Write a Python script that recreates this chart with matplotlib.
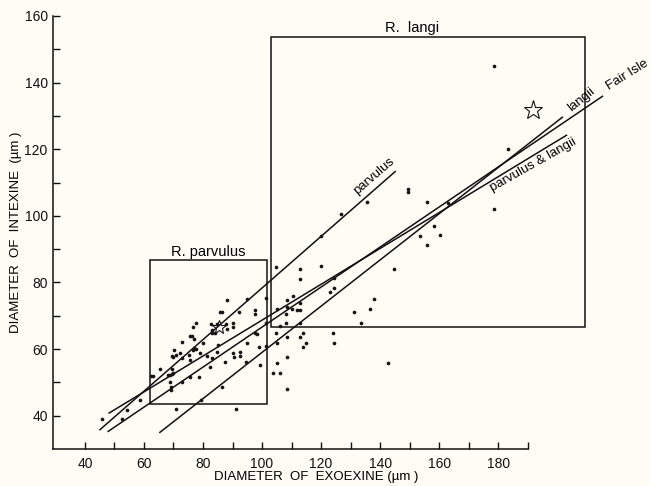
import matplotlib
matplotlib.use("Agg")
import matplotlib.pyplot as plt
from matplotlib.patches import Rectangle

plt.rcParams['font.family'] = ['Liberation Sans', 'DejaVu Sans']

# Messpunkte: Exoexine (x) gegen Intexine (y), in µm
exo = [45.9, 54.3, 52.4, 58.6, 63.1, 62.3, 65.4, 68.2,
       88.2, 95.0, 85.7, 86.4, 92.3, 97.6, 97.6, 77.6, 82.6, 84.8, 87.8, 90.2,
       76.7, 83.2, 88.2, 90.0, 75.5, 76.3, 83.2, 97.7, 98.3, 76.9, 72.8, 80.1,
       85.2, 94.8, 99.0, 70.1, 76.7, 77.6, 72.2, 69.4, 69.9, 70.8, 75.3, 79.0,
       81.2, 84.8, 90.2, 90.5, 92.5, 92.5, 72.8, 75.6, 82.9, 87.4, 82.3, 94.5,
       99.3, 69.4, 69.9, 68.8, 75.6, 78.7, 68.8, 69.0, 69.0, 72.8, 86.6, 79.2,
       70.8, 91.3, 77.0, 69.5, 84.0,
       135.6, 126.6, 119.8, 144.7, 104.7, 112.8, 119.9, 112.8, 124.3, 124.3,
       123.0, 110.6, 108.3, 137.9, 108.3, 110.0, 112.8, 112.0, 112.8, 104.9,
       101.5, 131.1, 136.5, 108.1, 133.5, 101.5, 108.1, 112.8, 106.1, 104.7,
       108.3, 113.7, 112.8, 124.1, 104.9, 114.9, 114.0, 124.3, 108.3, 104.9,
       142.5, 103.6, 106.1, 108.3, 101.5,
       160.3, 158.2, 153.5, 156.0, 156.0, 178.6, 183.2, 149.5, 149.5, 163.1, 178.6]
intex = [38.9, 41.7, 38.9, 44.7, 51.9, 51.9, 53.9, 52.2,
         74.7, 74.9, 71.0, 71.0, 71.0, 71.7, 70.5, 67.9, 67.5, 67.5, 67.5, 67.9,
         66.5, 65.7, 65.9, 66.5, 63.9, 63.9, 64.7, 64.7, 64.5, 62.9, 62.2, 61.9,
         61.2, 61.9, 60.7, 59.7, 59.7, 59.9, 58.7, 57.9, 57.5, 58.2, 58.2, 58.7,
         57.9, 59.2, 58.7, 57.7, 59.2, 57.9, 57.2, 56.7, 57.2, 56.2, 54.7, 56.2,
         55.2, 53.9, 52.7, 52.2, 51.7, 51.7, 50.2, 48.7, 47.7, 50.2, 48.7, 44.7,
         41.9, 41.9, 60.3, 52.6, 64.9,
         104.1, 100.5, 94.0, 84.0, 84.7, 84.0, 84.9, 81.0, 81.3, 78.3,
         77.2, 75.9, 74.7, 75.0, 72.5, 71.9, 73.8, 71.7, 71.7, 71.9,
         75.2, 71.2, 71.9, 70.5, 67.7, 67.7, 67.7, 67.9, 66.9, 64.9,
         63.7, 64.9, 63.7, 64.9, 61.7, 61.7, 60.7, 61.7, 57.7, 55.7,
         55.9, 52.9, 52.7, 47.9, 60.9,
         94.3, 97.0, 94.0, 91.3, 104.2, 145.1, 120.2, 108.0, 107.3, 104.0, 102.0]

# Sterne
star_exo = [85.4, 191.7]
star_int = [66.5, 131.9]
star_size = [10, 14]

# Regressionsgeraden (Anfang, Ende)
line_names = ['parvulus', 'langii', 'Fair Isle', 'parvulus & langii']
line_x0 = [45.1, 65.4, 47.9, 48.2]
line_y0 = [35.8, 35.0, 35.3, 40.8]
line_x1 = [145.1, 201.7, 215.3, 203.1]
line_y1 = [113.3, 129.6, 135.9, 124.2]
label_x = [138.0, 208.0, 223.6, 191.9]
label_y = [111.8, 135.0, 142.2, 115.4]
label_rot = [41, 39, 32, 29.5]

# Kästen: links, unten, rechts, oben
box_names = ['R. parvulus', 'R.  langi']
box_x0 = [62.0, 103.1]
box_y0 = [43.4, 66.6]
box_x1 = [101.6, 209.5]
box_y1 = [86.7, 153.8]
box_lab_x = [81.8, 150.8]
box_lab_y = [89.0, 156.4]

bg = '#fdfdf6'
fig = plt.figure(figsize=(6.5, 4.86), dpi=100, facecolor=bg)
ax = fig.add_axes([0.082, 0.0761, 0.730, 0.891], facecolor=bg)

ax.scatter(exo, intex, s=7, color='#151515', linewidths=0, zorder=3)
for x, y, ms in zip(star_exo, star_int, star_size):
    ax.plot(x, y, marker='*', ms=ms, mfc='none', mec='#151515', mew=0.8,
            clip_on=False, zorder=4)

for i in range(len(line_names)):
    ax.plot([line_x0[i], line_x1[i]], [line_y0[i], line_y1[i]],
            color='#111111', lw=1.1, clip_on=False, zorder=2)
    ax.text(label_x[i], label_y[i], line_names[i], rotation=label_rot[i],
            ha='center', va='center', fontsize=9.5, rotation_mode='anchor')

for i in range(len(box_names)):
    ax.add_patch(Rectangle((box_x0[i], box_y0[i]), box_x1[i] - box_x0[i],
                           box_y1[i] - box_y0[i], fill=False, ec='#111111',
                           lw=1.1, clip_on=False, zorder=2))
    ax.text(box_lab_x[i], box_lab_y[i], box_names[i], ha='center', va='center',
            fontsize=10.5)

ax.set_xlim(29.3, 190)
ax.set_ylim(30, 160)
ax.set_xticks(range(40, 181, 20))
ax.set_xticks(range(50, 191, 20), minor=True)
ax.set_yticks(range(40, 161, 20))
ax.set_yticks(range(50, 151, 20), minor=True)
ax.tick_params(which='both', direction='in', length=5, width=1, labelsize=10,
               colors='#111111')
ax.tick_params(axis='x', pad=6)
ax.tick_params(axis='y', pad=4)

for s in ['top', 'right']:
    ax.spines[s].set_visible(False)
for s in ['left', 'bottom']:
    ax.spines[s].set_linewidth(1.1)
    ax.spines[s].set_color('#111111')

ax.set_xlabel('DIAMETER  OF  EXOEXINE (µm )', fontsize=9.5)
ax.xaxis.set_label_coords(0.554, -0.051)
ax.set_ylabel('DIAMETER  OF  INTEXINE  (µm )', fontsize=9.5)
ax.yaxis.set_label_coords(-0.066, 0.5)

plt.savefig('out.png', dpi=100, facecolor=bg)
